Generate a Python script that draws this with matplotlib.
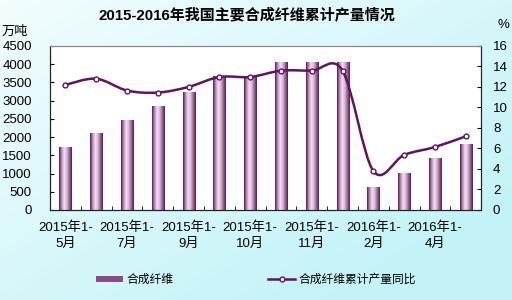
import numpy as np
from matplotlib import pyplot as plt
from matplotlib.colors import LinearSegmentedColormap
from matplotlib.path import Path
from matplotlib.patches import PathPatch, Patch
from matplotlib.lines import Line2D

plt.rcParams['font.family'] = ['Liberation Sans', 'Noto Sans CJK SC', 'DejaVu Sans']

# 数据
periods = ['2015年1-5月', '2015年1-6月', '2015年1-7月', '2015年1-8月', '2015年1-9月',
           '2015年1-9月 ', '2015年1-10月', '2015年1-10月 ', '2015年1-11月', '2015年1-12月',
           '2016年1-2月', '2016年1-3月', '2016年1-4月', '2016年1-5月']
shown = [0, 2, 4, 6, 8, 10, 12]
tick_text = ['2015年1-\n5月', '2015年1-\n7月', '2015年1-\n9月', '2015年1-\n10月',
             '2015年1-\n11月', '2016年1-\n2月', '2016年1-\n4月']
output = [1714, 2103, 2467, 2829, 3210, 3672, 3672, 4034, 4034, 4034, 617, 998, 1406, 1795]
growth = [12.2, 12.8, 11.65, 11.45, 12.0, 12.97, 12.97, 13.58, 13.58, 13.58, 3.8, 5.37, 6.14, 7.18]

purple = '#62125e'
fig = plt.figure(figsize=(5.12, 3.0), dpi=100)

# 背景渐变
bg = fig.add_axes([0, 0, 1, 1], zorder=-5)
gx, gy = np.meshgrid(np.linspace(0, 1, 64), np.linspace(0, 1, 64))
bg_cmap = LinearSegmentedColormap.from_list('bg', ['#f2fdfe', '#c4f3f7'])
bg.imshow(np.clip(0.6 * gy + 0.6 * gx, 0, 1), cmap=bg_cmap, aspect='auto', extent=[0, 1, 0, 1])
bg.axis('off')

ax = fig.add_axes([0.0977, 0.30, 0.842, 0.547])
ax.set_facecolor('white')
x = np.arange(len(output))
w = 0.39
bar_cmap = LinearSegmentedColormap.from_list('bar', ['#5e1a58', '#b890b8', '#efe2f0', '#d8bcd8', '#9a6894', '#5e1a58'])
grad = np.linspace(0, 1, 32).reshape(1, -1)
for xi, h in zip(x, output):
    ax.imshow(grad, cmap=bar_cmap, aspect='auto', extent=[xi - w / 2, xi + w / 2, 0, h], zorder=2)
ax.set_xlim(-0.5, len(output) - 0.5)
ax.set_ylim(0, 4500)
ax.set_yticks(np.arange(0, 4501, 500))
ax.set_xticks(x[shown])
ax.set_xticklabels(tick_text, linespacing=1.45)
ax.set_xticks(np.arange(0.5, len(output) - 0.5, 1), minor=True)
ax.tick_params(axis='x', which='major', length=0, pad=8, labelsize=9.5)
ax.tick_params(axis='x', which='minor', direction='in', length=3)
ax.tick_params(axis='y', direction='in', length=3, labelsize=9.5, pad=13)
for s in ['left', 'bottom', 'right']:
    ax.spines[s].set_color('#222222')
ax.spines['top'].set_color('#888888')

ax2 = ax.twinx()
ax2.set_ylim(0, 16)
ax2.set_yticks(np.arange(0, 17, 2))
ax2.tick_params(axis='y', direction='in', length=3, labelsize=9.5, pad=8.5)
for s in ['left', 'bottom', 'right']:
    ax2.spines[s].set_color('#222222')
ax2.spines['top'].set_color('#888888')

# 平滑曲线（Catmull-Rom）
pts = np.column_stack([x, growth]).astype(float)
verts = [pts[0]]
codes = [Path.MOVETO]
n = len(pts)
for i in range(n - 1):
    p0 = pts[max(i - 1, 0)]
    p1 = pts[i]
    p2 = pts[i + 1]
    p3 = pts[min(i + 2, n - 1)]
    verts += [p1 + (p2 - p0) / 6, p2 - (p3 - p1) / 6, p2]
    codes += [Path.CURVE4] * 3
ax2.add_patch(PathPatch(Path(verts, codes), facecolor='none', edgecolor=purple, lw=1.8, zorder=3))
ax2.plot(x, growth, ls='none', marker='o', ms=3.5, mfc='white', mec=purple, mew=1, zorder=4)

fig.text(0.483, 0.95, '2015-2016年我国主要合成纤维累计产量情况', ha='center', va='center',
         fontsize=10.8, fontweight='bold')
fig.text(0.004, 0.895, '万吨', fontsize=9.5, va='center')
fig.text(0.995, 0.915, '%', fontsize=9.5, va='center', ha='right')

handles = [Patch(facecolor='#8a4a82', edgecolor='none'),
           Line2D([], [], color=purple, lw=1.8, marker='o', ms=3.5, mfc='white', mec=purple)]
fig.legend(handles, ['合成纤维', '合成纤维累计产量同比'], loc='center', bbox_to_anchor=(0.5, 0.067),
           ncol=2, frameon=False, fontsize=8.5, columnspacing=8, handlelength=2.3, handleheight=0.4,
           handletextpad=0.3)

plt.savefig('out.png', dpi=100)
